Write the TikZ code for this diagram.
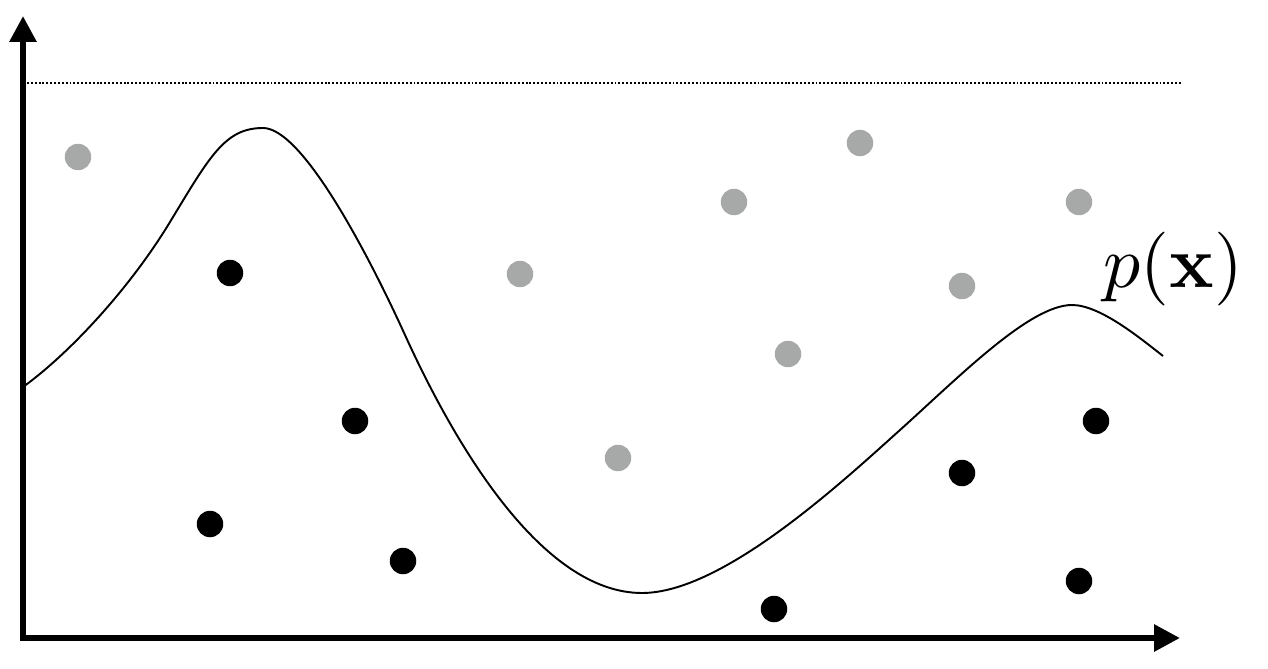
\documentclass[tikz,border=0pt]{standalone}
\usetikzlibrary{arrows.meta}
\definecolor{DotGray}{HTML}{A6A9A7}

\begin{document}
\begin{tikzpicture}[x=0.02cm,y=-0.02cm,
    axis/.style={line width=3.4pt,
      {Triangle[length=0.52cm,width=0.52cm]}-{Triangle[length=0.52cm,width=0.52cm]}},
    sample/.style={circle,fill=#1,inner sep=0pt,minimum size=0.53cm}]
  \useasboundingbox (0,0) rectangle (1268,669);
  % axes, meeting in a square corner
  \coordinate (origin) at (23,638);
  \coordinate (ytip) at (23,16);
  \coordinate (xtip) at (1180,638);
  \draw[axis] (ytip) -- (origin) -- (xtip);
  % upper bound
  \coordinate (boundL) at (27,83);
  \coordinate (boundR) at (1182,83);
  \draw[line width=1.1pt,dash pattern=on 1.1pt off 1.1pt] (boundL) -- (boundR);
  % density curve: two bumps and a dip
  \draw[line width=1.1pt] (23,387)
    .. controls (70,353) and (130,288) .. (170,222)
    .. controls (210,156) and (225,128) .. (263,128)
    .. controls (303,128) and (370,258) .. (405,335)
    .. controls (455,445) and (542,593) .. (642,593)
    .. controls (722,593) and (840,484) .. (900,430)
    .. controls (960,376) and (1030,305) .. (1072,305)
    .. controls (1100,305) and (1140,338) .. (1163,356);
  % rejected samples (above the curve)
  \foreach \x/\y [count=\i] in {78/157,520/274,734/202,860/143,
      1079/202,962/286,788/354,618/458}
    \node[sample=DotGray] (rej\i) at (\x,\y) {};
  % accepted samples (below the curve)
  \foreach \x/\y [count=\i] in {230/273,355/421,210/524,403/561,
      774/609,962/473,1096/421,1079/581}
    \node[sample=black] (acc\i) at (\x,\y) {};
  \node[anchor=base west,inner sep=0pt,scale=4.2]
    (label) at (1102,287) {$p(\mathbf{x})$};
\end{tikzpicture}
\end{document}
